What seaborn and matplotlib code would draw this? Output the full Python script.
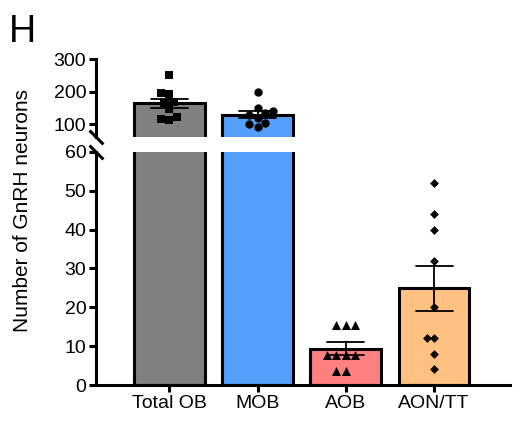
import pandas as pd
import seaborn as sns
import matplotlib.pyplot as plt

# values
regions = ["Total OB", "MOB", "AOB", "AON/TT"]
total_ob = [252, 195, 192, 166, 167, 146, 112, 123, 115]
mob = [197, 149, 141, 128, 133, 118, 92, 100, 104]
aob = [15.5, 15.5, 15.5, 7.7, 7.7, 7.7, 7.7, 3.6, 3.6]
aon_tt = [52, 44, 40, 32, 20, 12, 12, 8, 4]

bar_colors = ["#808080", "#559ffa", "#ff8080", "#ffc080"]
markers = ["s", "o", "^", "D"]
marker_sizes = [6, 6, 6.5, 4.5]

lower_ticks = [0, 10, 20, 30, 40, 50, 60]
upper_ticks = [100, 200, 300]

df = pd.DataFrame({
    "region": sum([[r] * len(v) for r, v in zip(regions, [total_ob, mob, aob, aon_tt])], []),
    "count": total_ob + mob + aob + aon_tt,
})

sns.set_style("ticks")
plt.rcParams["font.family"] = ["Liberation Sans", "DejaVu Sans"]
for key in ("text.color", "axes.labelcolor", "xtick.color", "ytick.color", "axes.edgecolor"):
    plt.rcParams[key] = "black"

LW = 2.2
fig = plt.figure(figsize=(5.13, 4.23), dpi=100)
ax_hi = fig.add_axes([0.1871, 0.6761, 0.807, 0.1844])
ax_lo = fig.add_axes([0.1871, 0.0898, 0.807, 0.5509])
limits = {ax_hi: (60, 300), ax_lo: (0, 60)}

for ax, (lo, hi) in limits.items():
    sns.barplot(data=df, x="region", y="count", hue="region", order=regions,
                hue_order=regions, palette=bar_colors, saturation=1, legend=False,
                errorbar="se", capsize=0.42, width=0.8,
                edgecolor="black", linewidth=LW,
                err_kws={"color": "black", "linewidth": 1.3}, ax=ax)
    for name, m, s in zip(regions, markers, marker_sizes):
        sub = df[(df["region"] == name) & df["count"].between(lo, hi)]
        if sub.empty:
            continue
        sns.swarmplot(data=sub, x="region", y="count", order=regions,
                      marker=m, color="black", size=s, zorder=3, ax=ax)
    ax.set_ylim(lo, hi)
    ax.set_xlim(-0.83, 3.86)
    ax.set_xlabel("")
    ax.set_ylabel("")
    for side in ("top", "right"):
        ax.spines[side].set_visible(False)
    ax.spines["left"].set_linewidth(LW)
    ax.spines["bottom"].set_linewidth(LW)
    ax.tick_params(width=LW, length=5, labelsize=14, pad=2, color="black",
                   labelcolor="black")

ax_hi.set_yticks(upper_ticks)
ax_hi.spines["bottom"].set_visible(False)
ax_hi.tick_params(axis="x", bottom=False, labelbottom=False)
ax_lo.set_yticks(lower_ticks)

# break marks on the y axis
kw = dict(marker=[(-1, 1), (1, -1)], markersize=10, linestyle="none",
          color="black", mec="black", mew=LW, clip_on=False)
ax_hi.plot([0], [0], transform=ax_hi.transAxes, **kw)
ax_lo.plot([0], [1], transform=ax_lo.transAxes, **kw)

fig.text(0.043, 0.503, "Number of GnRH neurons", rotation=90,
         ha="center", va="center", fontsize=15)
fig.text(0.018, 0.9007, "H", fontsize=27, va="baseline", ha="left")

fig.savefig("out.png", dpi=100)
